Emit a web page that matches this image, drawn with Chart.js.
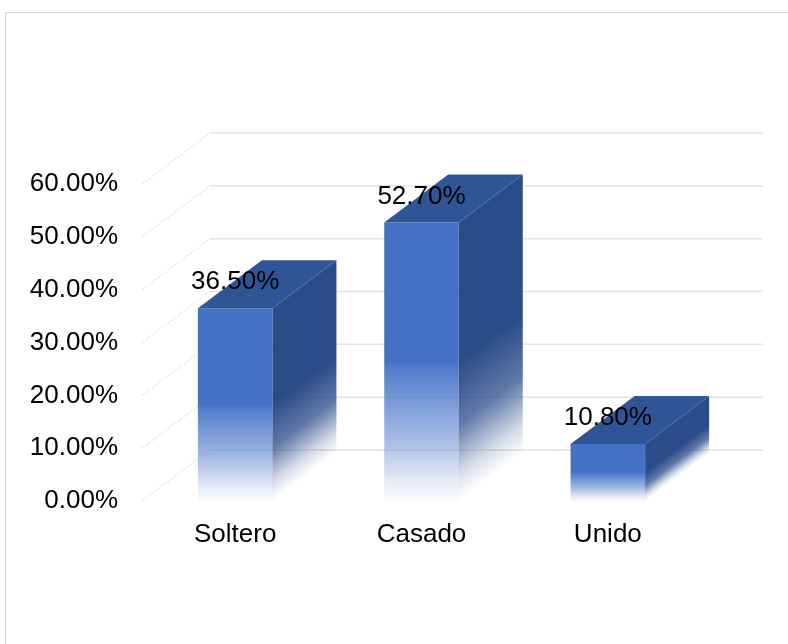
<!DOCTYPE html>
<html>
<head>
<meta charset="utf-8">
<script src="https://cdn.jsdelivr.net/npm/chart.js@4/dist/chart.umd.min.js"></script>
<style>
  html, body { margin: 0; padding: 0; background: #fff; overflow: hidden; }
  #wrap { position: relative; width: 788px; height: 644px; }
  #frame { position: absolute; left: 5px; top: 12px; width: 820px; height: 700px;
           border: 1px solid #d9d9d9; box-sizing: border-box; }
  canvas { position: absolute; left: 0; top: 0; }
</style>
</head>
<body>
<div id="wrap">
  <div id="frame"></div>
  <canvas id="c" width="788" height="644"></canvas>
</div>
<script>
// Estado civil – porcentaje por categoría
const categories = ['Soltero', 'Casado', 'Unido'];
const shares = [36.5, 52.7, 10.8];
const yMin = 0;
const yMax = 60;
const yStep = 10;

const FONT = '"Liberation Sans", Arial, sans-serif';
const FONT_SIZE = 26;
const BLUE = [68, 114, 196];
const SIDE = [43, 76, 137];
const TOP = '#2F5596';
const BAR_DX = 64, BAR_DY = 48;   // depth of each bar
const WALL_DX = 68, WALL_DY = 51; // depth of the back wall

function rgba(c, a) { return `rgba(${c[0]},${c[1]},${c[2]},${a})`; }

// Front faces: solid at the top, fading out in the lower half
function frontFill(ctx) {
  const chart = ctx.chart;
  if (!chart.chartArea || ctx.dataIndex === undefined) return rgba(BLUE, 1);
  const y = chart.scales.y;
  const top = y.getPixelForValue(shares[ctx.dataIndex]);
  const base = y.getPixelForValue(0);
  const g = chart.ctx.createLinearGradient(0, top, 0, base);
  g.addColorStop(0, rgba(BLUE, 1));
  g.addColorStop(0.5, rgba(BLUE, 1));
  g.addColorStop(0.52, rgba([80, 124, 203], 1));
  g.addColorStop(0.75, rgba([90, 130, 205], 0.6));
  g.addColorStop(0.92, rgba(BLUE, 0.15));
  g.addColorStop(1, rgba(BLUE, 0.02));
  return g;
}

// Back wall, side wall and grid lines
const wallPlugin = {
  id: 'wall',
  beforeDatasetsDraw(chart) {
    const { ctx, chartArea: a, scales: { y } } = chart;
    ctx.save();
    for (let v = yMin; v <= yMax; v += yStep) {
      const py = y.getPixelForValue(v);
      // side wall diagonal
      ctx.strokeStyle = '#d6d6d6';
      ctx.lineWidth = 1;
      ctx.setLineDash([2, 2]);
      ctx.beginPath();
      ctx.moveTo(a.left, py);
      ctx.lineTo(a.left + WALL_DX, py - WALL_DY);
      ctx.stroke();
      // back wall line
      ctx.setLineDash([]);
      ctx.strokeStyle = '#e3e3e3';
      ctx.lineWidth = 1.5;
      ctx.beginPath();
      ctx.moveTo(a.left + WALL_DX, py - WALL_DY);
      ctx.lineTo(a.right + WALL_DX - 6, py - WALL_DY);
      ctx.stroke();
    }
    ctx.restore();
  }
};

// Top and side faces of each bar, then the value labels
const boxPlugin = {
  id: 'box',
  afterDatasetsDraw(chart) {
    const { ctx } = chart;
    const meta = chart.getDatasetMeta(0);
    ctx.save();
    meta.data.forEach((bar, i) => {
      const { x, y, base, width } = bar.getProps(['x', 'y', 'base', 'width'], true);
      const xl = x - width / 2, xr = x + width / 2;
      const h = base - y;
      // side face
      const L = h * 0.5 * 0.8;
      const n = [BAR_DY / 80, BAR_DX / 80];
      const g = ctx.createLinearGradient(xr - n[0] * L, base - n[1] * L, xr, base);
      g.addColorStop(0, rgba(SIDE, 1));
      g.addColorStop(0.45, rgba(SIDE, 0.75));
      g.addColorStop(0.8, rgba(SIDE, 0.2));
      g.addColorStop(1, rgba(SIDE, 0));
      ctx.fillStyle = g;
      ctx.beginPath();
      ctx.moveTo(xr, y);
      ctx.lineTo(xr + BAR_DX, y - BAR_DY);
      ctx.lineTo(xr + BAR_DX, base - BAR_DY);
      ctx.lineTo(xr, base);
      ctx.closePath();
      ctx.fill();
      // top face
      ctx.fillStyle = TOP;
      ctx.beginPath();
      ctx.moveTo(xl, y);
      ctx.lineTo(xr, y);
      ctx.lineTo(xr + BAR_DX, y - BAR_DY);
      ctx.lineTo(xl + BAR_DX, y - BAR_DY);
      ctx.closePath();
      ctx.fill();
      // value label
      ctx.fillStyle = '#000';
      ctx.font = `${FONT_SIZE}px ${FONT}`;
      ctx.textAlign = 'center';
      ctx.textBaseline = 'middle';
      ctx.fillText(shares[i].toFixed(2) + '%', x, y - 26);
    });
    ctx.restore();
  }
};

new Chart(document.getElementById('c'), {
  type: 'bar',
  data: {
    labels: categories,
    datasets: [{
      data: shares,
      backgroundColor: frontFill,
      borderWidth: 0,
      categoryPercentage: 1,
      barPercentage: 0.4
    }]
  },
  options: {
    responsive: false,
    animation: false,
    events: [],
    layout: { padding: { left: 0, top: 184, right: 87, bottom: 0 } },
    plugins: { legend: { display: false }, tooltip: { enabled: false } },
    scales: {
      x: {
        grid: { display: false },
        border: { display: false },
        ticks: { color: '#000', font: { family: FONT, size: FONT_SIZE }, padding: 10 },
        afterFit(s) { s.height = 143; }
      },
      y: {
        min: yMin,
        max: yMax,
        grid: { display: false },
        border: { display: false },
        ticks: {
          stepSize: yStep,
          color: '#000',
          padding: 16,
          font: { family: FONT, size: FONT_SIZE },
          callback: v => v.toFixed(2) + '%'
        },
        afterFit(s) { s.width = 142; }
      }
    }
  },
  plugins: [wallPlugin, boxPlugin]
});
</script>
</body>
</html>
